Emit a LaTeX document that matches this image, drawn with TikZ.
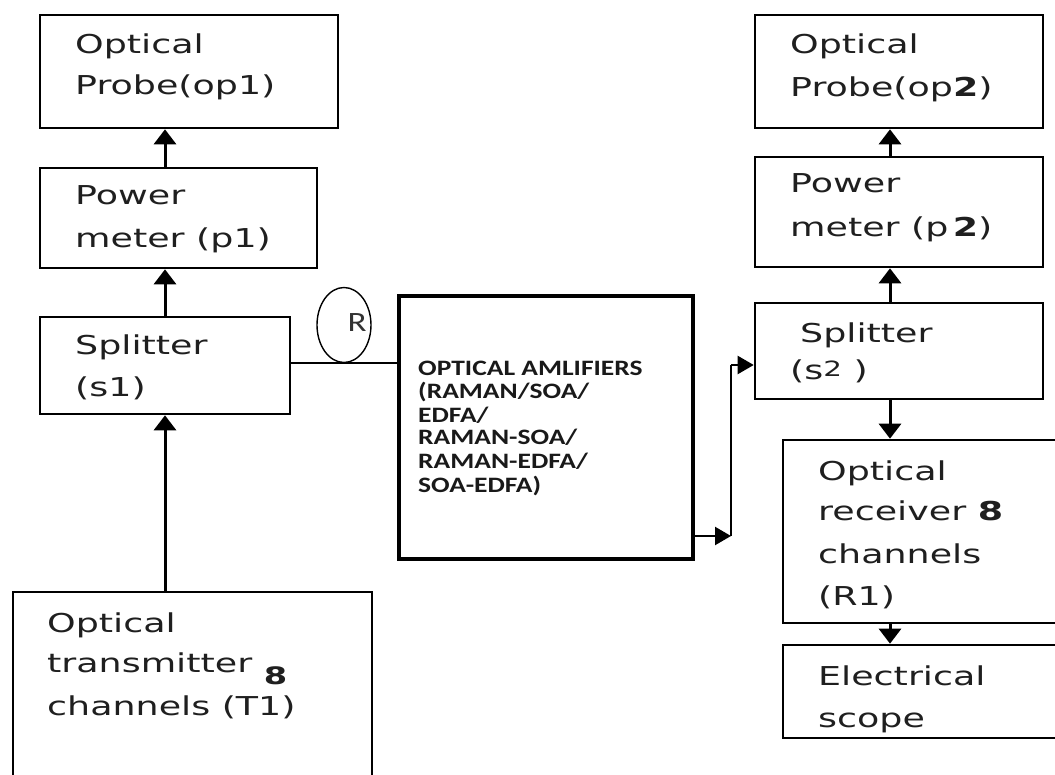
\documentclass[tikz,border=0pt]{standalone}
\usepackage{fontspec}
\newfontfamily\lblfont[FakeStretch=1.4]{DejaVu Sans}
\newfontfamily\ampfont[FakeStretch=1.25]{Carlito}
\usetikzlibrary{arrows.meta,shapes.geometric}

\begin{document}
\begin{tikzpicture}[x=1pt,y=-1pt,
  box/.style={draw, line width=2.6pt, inner sep=0pt},
  bigbox/.style={draw, line width=4.2pt, inner sep=0pt},
  lbl/.style={anchor=base west, inner sep=0pt, text=black!88,
    font=\lblfont\fontsize{26}{40}\selectfont},
  amptxt/.style={anchor=base west, inner sep=0pt, text=black!90,
    font=\ampfont\bfseries\fontsize{22}{24}\selectfont},
  arr/.style={line width=3pt, -{Triangle[length=15pt,width=22pt]}},
  thinarr/.style={line width=2.2pt, -{Triangle[length=16pt,width=18pt]}},
  wire/.style={line width=2.2pt}]

\useasboundingbox (0,0) rectangle (1055,775);
\clip (0,0) rectangle (1055,775);

% ---- left column ----
\node[box, minimum width=298pt, minimum height=113pt] (op1) at (189,71.5) {};
\node[box, minimum width=277pt, minimum height=100pt] (p1) at (178.5,218) {};
\node[box, minimum width=250pt, minimum height=97pt] (s1) at (165,365.5) {};
\node[box, minimum width=359pt, minimum height=220pt] (t1) at (192.5,702) {};

\node[lbl] (op1a) at (75,54) {Optical};
\node[lbl] (op1b) at (75,95) {Probe(op1)};
\node[lbl] (p1a) at (75,205) {Power};
\node[lbl] (p1b) at (75,248) {meter (p1)};
\node[lbl] (s1a) at (75,355) {Splitter};
\node[lbl] (s1b) at (75,397) {(s1)};
\node[lbl] (t1a) at (47,632) {Optical};
\node[lbl] (t1b) at (47,672) {transmitter \raisebox{-12pt}{\fontsize{24}{24}\selectfont\bfseries 8}};
\node[lbl] (t1c) at (47,715) {channels (T1)};

\coordinate (xl) at (165,0);
\draw[arr] (p1.north -| xl) -- (op1.south -| xl);
\draw[arr] (s1.north -| xl) -- (p1.south -| xl);
\draw[arr] (t1.north -| xl) -- (s1.south -| xl);

% ---- amplifier stage ----
\node[bigbox, minimum width=294pt, minimum height=263pt] (amp) at (546,427.5) {};
\node[amptxt] (am1) at (418,376) {OPTICAL AMLIFIERS};
\node[amptxt] (am2) at (418,399) {(RAMAN/SOA/};
\node[amptxt] (am3) at (418,422) {EDFA/};
\node[amptxt] (am4) at (418,445) {RAMAN-SOA/};
\node[amptxt] (am5) at (418,468) {RAMAN-EDFA/};
\node[amptxt] (am6) at (418,492) {SOA-EDFA)};

\coordinate (yin) at (0,363);
\draw[wire] (s1.east |- yin) -- (amp.west |- yin);
\node[draw, line width=1.4pt, ellipse, minimum width=54pt, minimum height=75pt, inner sep=0pt] (ram) at (344,325) {};
\node[inner sep=0pt, font=\ampfont\fontsize{28}{28}\selectfont, text=black!80] (ramR) at (357,323) {R};

\coordinate (yout) at (0,536);
\coordinate (turn) at (731,536);
\coordinate (rise) at (731,365);
\draw[thinarr] (amp.east |- yout) -- (turn);
\draw[wire] (turn) -- (rise);

% ---- right column ----
\node[box, minimum width=288pt, minimum height=113pt] (op2) at (899,71.5) {};
\node[box, minimum width=288pt, minimum height=110pt] (p2) at (899,212) {};
\node[box, minimum width=288pt, minimum height=96pt] (s2) at (899,351) {};
\node[box, minimum width=300pt, minimum height=183pt] (rx) at (933,531.5) {};
\node[box, minimum width=300pt, minimum height=93pt] (sc) at (933,691.5) {};

\draw[thinarr] (rise) -- (s2.west |- rise);

\node[lbl] (op2a) at (790,54) {Optical};
\node[lbl] (op2b) at (790,97) {Probe(op{\bfseries 2})};
\node[lbl] (p2a) at (790,193) {Power};
\node[lbl] (p2b) at (790,237) {meter (p\,{\bfseries 2})};
\node[lbl] (s2a) at (800,343) {Splitter};
\node[lbl] (s2b) at (790,380) {(s\raisebox{3pt}{\fontsize{21}{21}\selectfont 2} )};
\node[lbl] (rxa) at (818,480) {Optical};
\node[lbl] (rxb) at (818,520) {receiver {\bfseries 8}};
\node[lbl] (rxc) at (818,563) {channels};
\node[lbl] (rxd) at (818,605) {(R1)};
\node[lbl] (sca) at (818,685) {Electrical};
\node[lbl] (scb) at (818,727) {scope};

\coordinate (xr) at (890,0);
\draw[arr] (p2.north -| xr) -- (op2.south -| xr);
\draw[arr] (s2.north -| xr) -- (p2.south -| xr);
\draw[arr] (s2.south -| xr) -- (rx.north -| xr);
\draw[arr] (rx.south -| xr) -- (sc.north -| xr);
\end{tikzpicture}
\end{document}
